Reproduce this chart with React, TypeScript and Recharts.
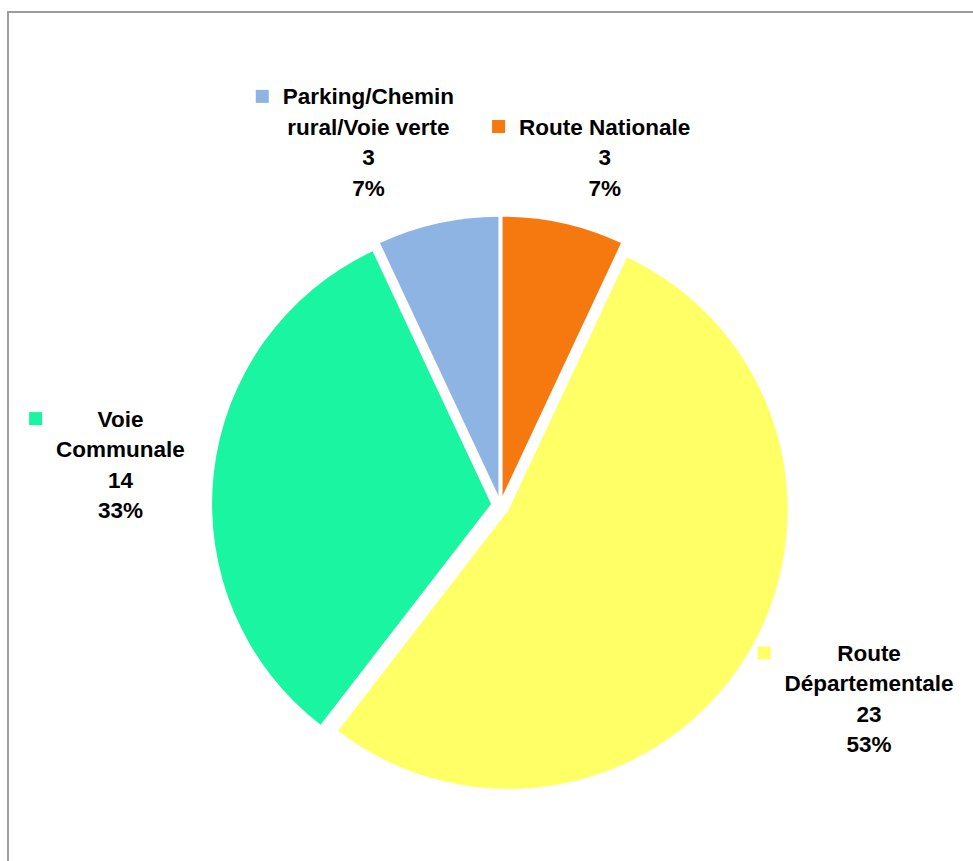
import React from 'react';
import { PieChart, Pie, Cell, Sector } from 'recharts';

if (typeof document !== 'undefined') {
  document.body.style.margin = '0';
}

// ---- data ----
const categories = [
  'Route Nationale',
  'Route Départementale',
  'Voie Communale',
  'Parking/Chemin rural/Voie verte',
];
const counts = [3, 23, 14, 3];
const labelLines = [
  ['Route Nationale'],
  ['Route', 'Départementale'],
  ['Voie', 'Communale'],
  ['Parking/Chemin', 'rural/Voie verte'],
];
const colors = ['#F5790F', '#FFFF66', '#19F5A0', '#8EB4E3'];

const pieData = categories.map((name, i) => ({ name, value: counts[i] }));

// ---- style / layout constants ----
const W = 973;
const H = 861;
const OUTER_R = 279;
const EXPLODE = 9.5;
const LABEL_R = 318;
const FONT_SIZE = 22.5;
const FONT_FAMILY = '"Liberation Sans", Arial, sans-serif';
const LINE_H = 30.5;
const CAP_H = 16;
const SQ = 13;
const SQ_GAP = 14;
const MIN_GAP = 38;

let measureCtx: CanvasRenderingContext2D | null = null;
const measure = (s: string) => {
  if (!measureCtx && typeof document !== 'undefined') {
    measureCtx = document.createElement('canvas').getContext('2d');
  }
  if (!measureCtx) return s.length * FONT_SIZE * 0.55;
  measureCtx.font = `bold ${FONT_SIZE}px ${FONT_FAMILY}`;
  return measureCtx.measureText(s).width;
};

const pctText = (v: number, total: number) => `${Math.round((v / total) * 100)}%`;

// label blocks positioned relative to pie centre, with simple overlap avoidance
const computeLayout = () => {
  const total = counts.reduce((a, b) => a + b, 0);
  let cum = 0;
  const boxes = counts.map((v, i) => {
    const mid = 90 - ((cum + v / 2) / total) * 360;
    cum += v;
    const rad = (mid * Math.PI) / 180;
    const c = Math.cos(rad);
    const s = Math.sin(rad);
    const lines = [...labelLines[i], String(v), pctText(v, total)];
    const maxW = Math.max(...lines.map(measure));
    const w = maxW + SQ + SQ_GAP;
    const h = (lines.length - 1) * LINE_H + CAP_H;
    return {
      dx: LABEL_R * c + (w / 2) * c,
      dy: -LABEL_R * s - (h / 2) * s,
      w,
      h,
      lines,
      maxW,
    };
  });
  for (let i = 0; i < boxes.length; i++) {
    for (let j = i + 1; j < boxes.length; j++) {
      const a = boxes[i];
      const b = boxes[j];
      const vOverlap = Math.abs(a.dy - b.dy) < (a.h + b.h) / 2;
      if (!vOverlap) continue;
      const [l, r] = a.dx < b.dx ? [a, b] : [b, a];
      const need = l.dx + l.w / 2 + MIN_GAP - (r.dx - r.w / 2);
      if (need > 0) {
        if (l.dx < 0) l.dx -= need;
        else r.dx += need;
      }
    }
  }
  return boxes;
};

const renderSector = (props: any) => {
  const { cx, cy, midAngle } = props;
  const rad = (-midAngle * Math.PI) / 180;
  return (
    <Sector
      {...props}
      cx={cx + EXPLODE * Math.cos(rad)}
      cy={cy + EXPLODE * Math.sin(rad)}
    />
  );
};

export default function App() {
  const layout = React.useMemo(() => computeLayout(), []);

  const renderLabel = (props: any) => {
    const { cx, cy, index } = props;
    const b = layout[index];
    const centerX = cx + b.dx;
    const centerY = cy + b.dy;
    const top = centerY - b.h / 2;
    const textCenter = centerX + (SQ + SQ_GAP) / 2;
    const widestLeft = textCenter - b.maxW / 2;
    return (
      <g key={`lbl-${index}`}>
        <rect
          x={widestLeft - SQ_GAP - SQ}
          y={top + 1.5}
          width={SQ}
          height={SQ}
          fill={colors[index]}
        />
        {b.lines.map((ln: string, k: number) => (
          <text
            key={k}
            x={textCenter}
            y={top + CAP_H + k * LINE_H}
            textAnchor="middle"
            fontFamily={FONT_FAMILY}
            fontWeight="bold"
            fontSize={FONT_SIZE}
            fill="#000"
          >
            {ln}
          </text>
        ))}
      </g>
    );
  };

  return (
    <div
      style={{
        position: 'relative',
        width: W,
        height: H,
        overflow: 'hidden',
        background: '#fff',
      }}
    >
      <div
        style={{
          position: 'absolute',
          left: 7,
          top: 11,
          width: 1000,
          height: 1000,
          border: '2px solid #9C9C9C',
          boxSizing: 'border-box',
        }}
      />
      <div style={{ position: 'absolute', left: 0, top: 0 }}>
        <PieChart width={W} height={H} margin={{ top: 0, right: 0, bottom: 0, left: 0 }}>
          <Pie
            data={pieData}
            dataKey="value"
            nameKey="name"
            cx={500.5}
            cy={505}
            innerRadius={0}
            outerRadius={OUTER_R}
            startAngle={90}
            endAngle={-270}
            stroke="none"
            isAnimationActive={false}
            label={renderLabel}
            labelLine={false}
            shape={renderSector}
          >
            {pieData.map((d, i) => (
              <Cell key={d.name} fill={colors[i]} />
            ))}
          </Pie>
        </PieChart>
      </div>
    </div>
  );
}
